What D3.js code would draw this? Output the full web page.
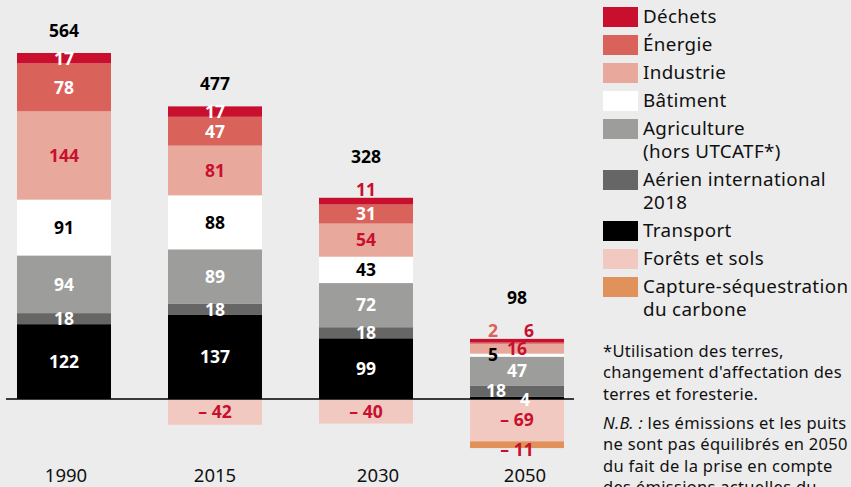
<!DOCTYPE html>
<html>
<head>
<meta charset="utf-8">
<script src="https://cdn.jsdelivr.net/npm/d3@7"></script>
<style>
  body { margin: 0; background: #ececec; }
  svg { display: block; font-family: "Noto Sans", sans-serif; }
  .total { font-weight: 700; font-size: 17.5px; fill: #000; }
  .oznaka { font-weight: 700; font-size: 17.5px; }
  .godina { font-size: 18.5px; fill: #111; }
  .legenda text { font-size: 18.8px; fill: #111; letter-spacing: 0.35px; }
  .napomena { font-size: 16.5px; fill: #111; letter-spacing: 0.3px; }
</style>
</head>
<body>
<div id="okvir"></div>
<script>
// 1. Podaci
const annees = ["1990", "2015", "2030", "2050"]
const totaux = [564, 477, 328, 98]

const transport = [122, 137, 99, 4]
const aerien = [18, 18, 18, 18]
const agriculture = [94, 89, 72, 47]
const batiment = [91, 88, 43, 5]
const industrie = [144, 81, 54, 16]
const energie = [78, 47, 31, 2]
const dechets = [17, 17, 11, 6]
const forets = [0, -42, -40, -69]
const capture = [0, 0, 0, -11]

const categories = ["Transport", "Aérien", "Agriculture", "Bâtiment", "Industrie", "Énergie", "Déchets", "Forêts", "Capture"]
const series = [transport, aerien, agriculture, batiment, industrie, energie, dechets, forets, capture]

const legendeOrdre = ["Déchets", "Énergie", "Industrie", "Bâtiment", "Agriculture", "Aérien", "Transport", "Forêts", "Capture"]
const legendeTextes = [
  ["Déchets"], ["Énergie"], ["Industrie"], ["Bâtiment"],
  ["Agriculture", "(hors UTCATF*)"], ["Aérien international", "2018"],
  ["Transport"], ["Forêts et sols"], ["Capture-séquestration", "du carbone"]
]
const napomena = [
  "*Utilisation des terres,",
  "changement d'affectation des",
  "terres et foresterie."
]
const napomenaNB = [
  "les émissions et les puits",
  "ne sont pas équilibrés en 2050",
  "du fait de la prise en compte",
  "des émissions actuelles du"
]

// boje
const boje = {
  "Déchets": "#c8102e", "Énergie": "#d9625a", "Industrie": "#e8a99c", "Bâtiment": "#ffffff",
  "Agriculture": "#9d9d9b", "Aérien": "#666666", "Transport": "#000000",
  "Forêts": "#f2c9c0", "Capture": "#e0925a"
}
const bojeOznaka = {
  "Déchets": "#fff", "Énergie": "#fff", "Industrie": "#c8102e", "Bâtiment": "#000",
  "Agriculture": "#fff", "Aérien": "#fff", "Transport": "#fff",
  "Forêts": "#c8102e", "Capture": "#c8102e"
}

// tablica za stack
const tablica = annees.map((a, i) => {
  const red = { annee: a }
  categories.forEach((c, j) => red[c] = series[j][i])
  return red
})

// 2. Dimenzije
const sirina = 851, visina = 487

const okvir = d3.select("#okvir").append("svg")
  .attr("width", sirina)
  .attr("height", visina)

// 3. Skale
const xSkala = d3.scaleBand()
  .domain(annees)
  .range([17, 564])
  .paddingInner(0.3775)
  .paddingOuter(0)

const ySkala = d3.scaleLinear()
  .domain([0, 564])
  .range([399, 53])

const stog = d3.stack()
  .keys(categories)
  .offset(d3.stackOffsetDiverging)(tablica)

// 4. Stupci
const grupe = okvir.append("g").selectAll("g")
  .data(stog)
  .join("g")
    .attr("fill", s => boje[s.key])

grupe.selectAll("rect")
  .data(s => s.filter(d => d[1] !== d[0]))
  .join("rect")
    .attr("x", d => xSkala(d.data.annee))
    .attr("width", xSkala.bandwidth())
    .attr("y", d => ySkala(Math.max(d[0], d[1])))
    .attr("height", d => Math.abs(ySkala(d[0]) - ySkala(d[1])))

// osnovna linija
okvir.append("line")
  .attr("x1", 6).attr("x2", 574)
  .attr("y1", ySkala(0)).attr("y2", ySkala(0))
  .attr("stroke", "#000").attr("stroke-width", 1.3)

// 5. Oznake segmenata
const pomakX = { "2050|Énergie": -24, "2050|Déchets": 12, "2050|Bâtiment": -24, "2050|Aérien": -21, "2050|Transport": 8 }
const pomakY = { "2050|Transport": 2, "2050|Capture": 5 }

const oznake = []
stog.forEach(s => {
  s.forEach(d => {
    const v = d.data[s.key]
    if (v === 0) return
    const annee = d.data.annee
    const kljuc = annee + "|" + s.key
    const visinaPx = Math.abs(ySkala(d[0]) - ySkala(d[1]))
    const gore = (s.key === "Déchets" || s.key === "Énergie") && visinaPx < 8
    const i = annees.indexOf(annee)
    let y = gore ? ySkala(totaux[i]) - 8 : (ySkala(d[0]) + ySkala(d[1])) / 2
    y += pomakY[kljuc] || 0
    const x = xSkala(annee) + xSkala.bandwidth() / 2 + (pomakX[kljuc] || 0)
    const tekst = v < 0 ? "\u2013 " + Math.abs(v) : String(v)
    oznake.push({ x, y, tekst, boja: gore ? boje[s.key] : bojeOznaka[s.key], gore, annee })
  })
})

okvir.append("g").selectAll("text")
  .data(oznake)
  .join("text")
    .attr("class", "oznaka")
    .attr("x", d => d.x)
    .attr("y", d => d.y)
    .attr("dy", "0.36em")
    .attr("text-anchor", "middle")
    .attr("fill", d => d.boja)
    .text(d => d.tekst)

// ukupno
okvir.append("g").selectAll("text")
  .data(annees)
  .join("text")
    .attr("class", "total")
    .attr("x", a => xSkala(a) + xSkala.bandwidth() / 2)
    .attr("y", (a, i) => {
      const podignuto = oznake.some(o => o.gore && o.annee === a)
      return ySkala(totaux[i]) - (podignuto ? 35 : 16)
    })
    .attr("text-anchor", "middle")
    .text((a, i) => totaux[i])

// godine (u originalu malo pomaknute udesno)
const pomakGodina = { "1990": 2, "2015": 0, "2030": 12, "2050": 8 }
okvir.append("g").selectAll("text")
  .data(annees)
  .join("text")
    .attr("class", "godina")
    .attr("x", a => xSkala(a) + xSkala.bandwidth() / 2 + pomakGodina[a])
    .attr("y", 482)
    .attr("text-anchor", "middle")
    .text(a => a)

// 6. Legenda
const legenda = okvir.append("g").attr("class", "legenda")
let yL = 7
legendeOrdre.forEach((k, i) => {
  const g = legenda.append("g").attr("transform", `translate(603, ${yL})`)
  g.append("rect").attr("width", 35).attr("height", 20).attr("fill", boje[k])
  legendeTextes[i].forEach((t, j) => {
    g.append("text").attr("x", 40).attr("y", 16 + j * 23).text(t)
  })
  yL += 28 + (legendeTextes[i].length - 1) * 23
})

const nap = okvir.append("g").attr("class", "napomena")
napomena.forEach((t, i) => {
  nap.append("text").attr("x", 603).attr("y", 357 + i * 21.3).text(t)
})
napomenaNB.forEach((t, i) => {
  const tx = nap.append("text").attr("x", 603).attr("y", 429 + i * 21.3)
  if (i === 0) tx.append("tspan").attr("font-style", "italic").text("N.B. : ")
  tx.append("tspan").text(t)
})
</script>
</body>
</html>
